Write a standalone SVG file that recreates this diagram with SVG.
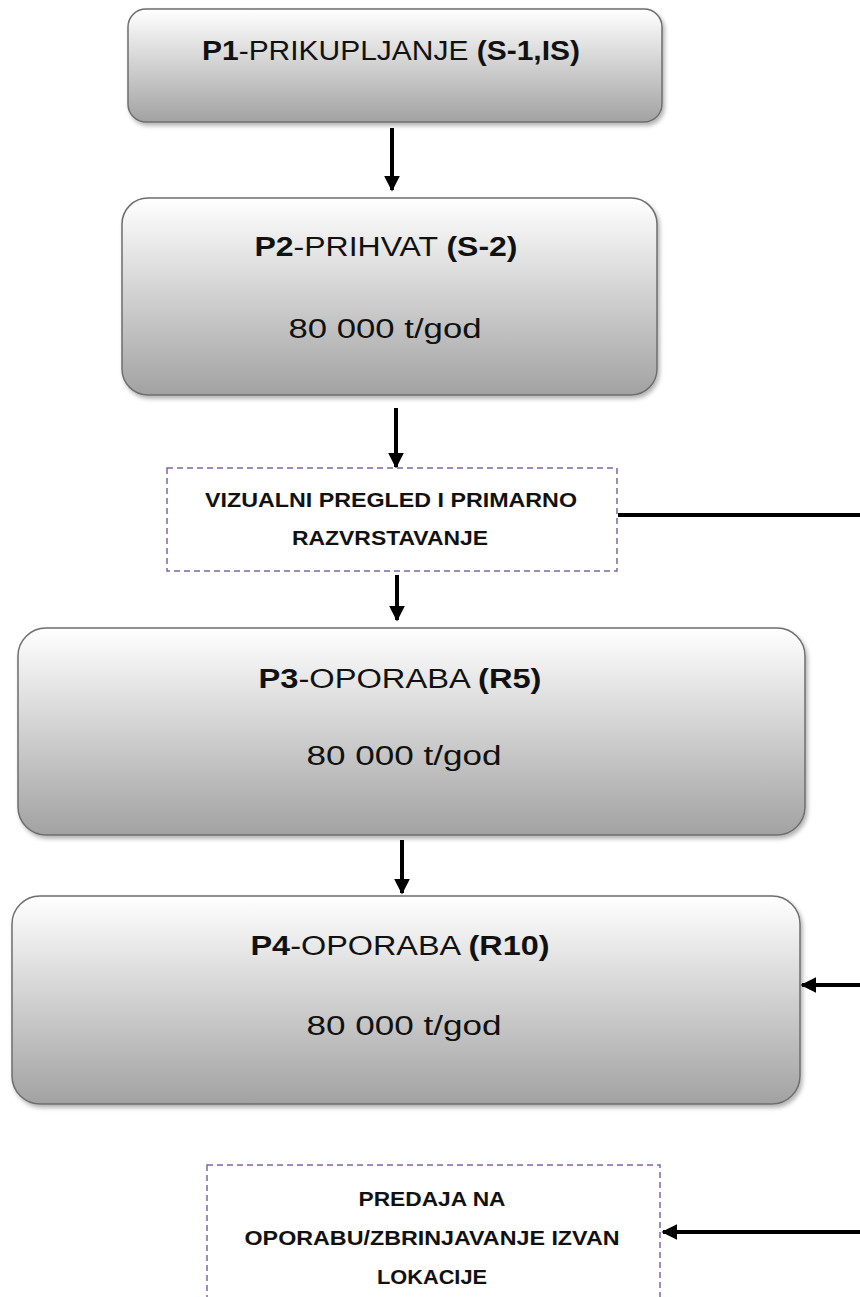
<svg xmlns="http://www.w3.org/2000/svg" width="860" height="1297" viewBox="0 0 860 1297">
<defs>
<linearGradient id="g" x1="0" y1="0" x2="0" y2="1">
<stop offset="0" stop-color="#ffffff"/>
<stop offset="1" stop-color="#a2a2a2"/>
</linearGradient>
<filter id="sh" x="-5%" y="-5%" width="110%" height="120%">
<feDropShadow dx="2" dy="3" stdDeviation="2" flood-color="#000" flood-opacity="0.3"/>
</filter>
<marker id="ah" viewBox="0 0 10 10" refX="9" refY="5" markerWidth="4" markerHeight="4" orient="auto" markerUnits="strokeWidth">
<path d="M0,0 L10,5 L0,10 z" fill="#000"/>
</marker>
</defs>
<style>
.box{fill:url(#g);stroke:#6e6e6e;stroke-width:1.5;filter:url(#sh)}
.dash{fill:#fff;stroke:#8064a2;stroke-width:1.5;stroke-dasharray:6,4}
.t{font-family:"Liberation Sans",Arial,sans-serif;font-size:27px;fill:#111;text-anchor:middle}
.d{font-family:"Liberation Sans",Arial,sans-serif;font-size:21px;font-weight:bold;fill:#111;text-anchor:middle}
.b{font-weight:bold}
.c{stroke:#000;stroke-width:4;fill:none}
</style>
<g id="connectors">
<line class="c" x1="392" y1="128" x2="392" y2="190" marker-end="url(#ah)"/>
<line class="c" x1="396" y1="408" x2="396" y2="467" marker-end="url(#ah)"/>
<line class="c" x1="397" y1="575" x2="397" y2="620" marker-end="url(#ah)"/>
<line class="c" x1="402" y1="840" x2="402" y2="893" marker-end="url(#ah)"/>
<line class="c" x1="618" y1="515" x2="860" y2="515"/>
<line class="c" x1="860" y1="985" x2="802" y2="985" marker-end="url(#ah)"/>
<line class="c" x1="860" y1="1232" x2="663" y2="1232" marker-end="url(#ah)"/>
</g>
<g id="p1">
<rect class="box" x="128" y="9" width="534" height="113" rx="18"/>
<text class="t" x="391" y="60" textLength="378" lengthAdjust="spacingAndGlyphs"><tspan class="b">P1</tspan>-PRIKUPLJANJE  <tspan class="b">(S-1,IS)</tspan></text>
</g>
<g id="p2">
<rect class="box" x="122" y="198" width="535" height="197" rx="26"/>
<text class="t" x="386" y="256" textLength="263" lengthAdjust="spacingAndGlyphs"><tspan class="b">P2</tspan>-PRIHVAT  <tspan class="b">(S-2)</tspan></text>
<text class="t" x="385" y="338" textLength="193" lengthAdjust="spacingAndGlyphs">80 000 t/god</text>
</g>
<g id="pregled">
<rect class="dash" x="167" y="468" width="450" height="103"/>
<text class="d" x="391" y="507" textLength="372" lengthAdjust="spacingAndGlyphs">VIZUALNI PREGLED I PRIMARNO</text>
<text class="d" x="390" y="545" textLength="196" lengthAdjust="spacingAndGlyphs">RAZVRSTAVANJE</text>
</g>
<g id="p3">
<rect class="box" x="18" y="628" width="787" height="207" rx="28"/>
<text class="t" x="400" y="688" textLength="283" lengthAdjust="spacingAndGlyphs"><tspan class="b">P3</tspan>-OPORABA  <tspan class="b">(R5)</tspan></text>
<text class="t" x="404" y="765" textLength="195" lengthAdjust="spacingAndGlyphs">80 000 t/god</text>
</g>
<g id="p4">
<rect class="box" x="12" y="896" width="788" height="208" rx="28"/>
<text class="t" x="400" y="955" textLength="299" lengthAdjust="spacingAndGlyphs"><tspan class="b">P4</tspan>-OPORABA  <tspan class="b">(R10)</tspan></text>
<text class="t" x="404" y="1035" textLength="195" lengthAdjust="spacingAndGlyphs">80 000 t/god</text>
</g>
<g id="predaja">
<rect class="dash" x="207" y="1165" width="453" height="140"/>
<text class="d" x="432" y="1206" textLength="147" lengthAdjust="spacingAndGlyphs">PREDAJA NA</text>
<text class="d" x="432" y="1245" textLength="375" lengthAdjust="spacingAndGlyphs">OPORABU/ZBRINJAVANJE IZVAN</text>
<text class="d" x="432" y="1284" textLength="110" lengthAdjust="spacingAndGlyphs">LOKACIJE</text>
</g>
</svg>
